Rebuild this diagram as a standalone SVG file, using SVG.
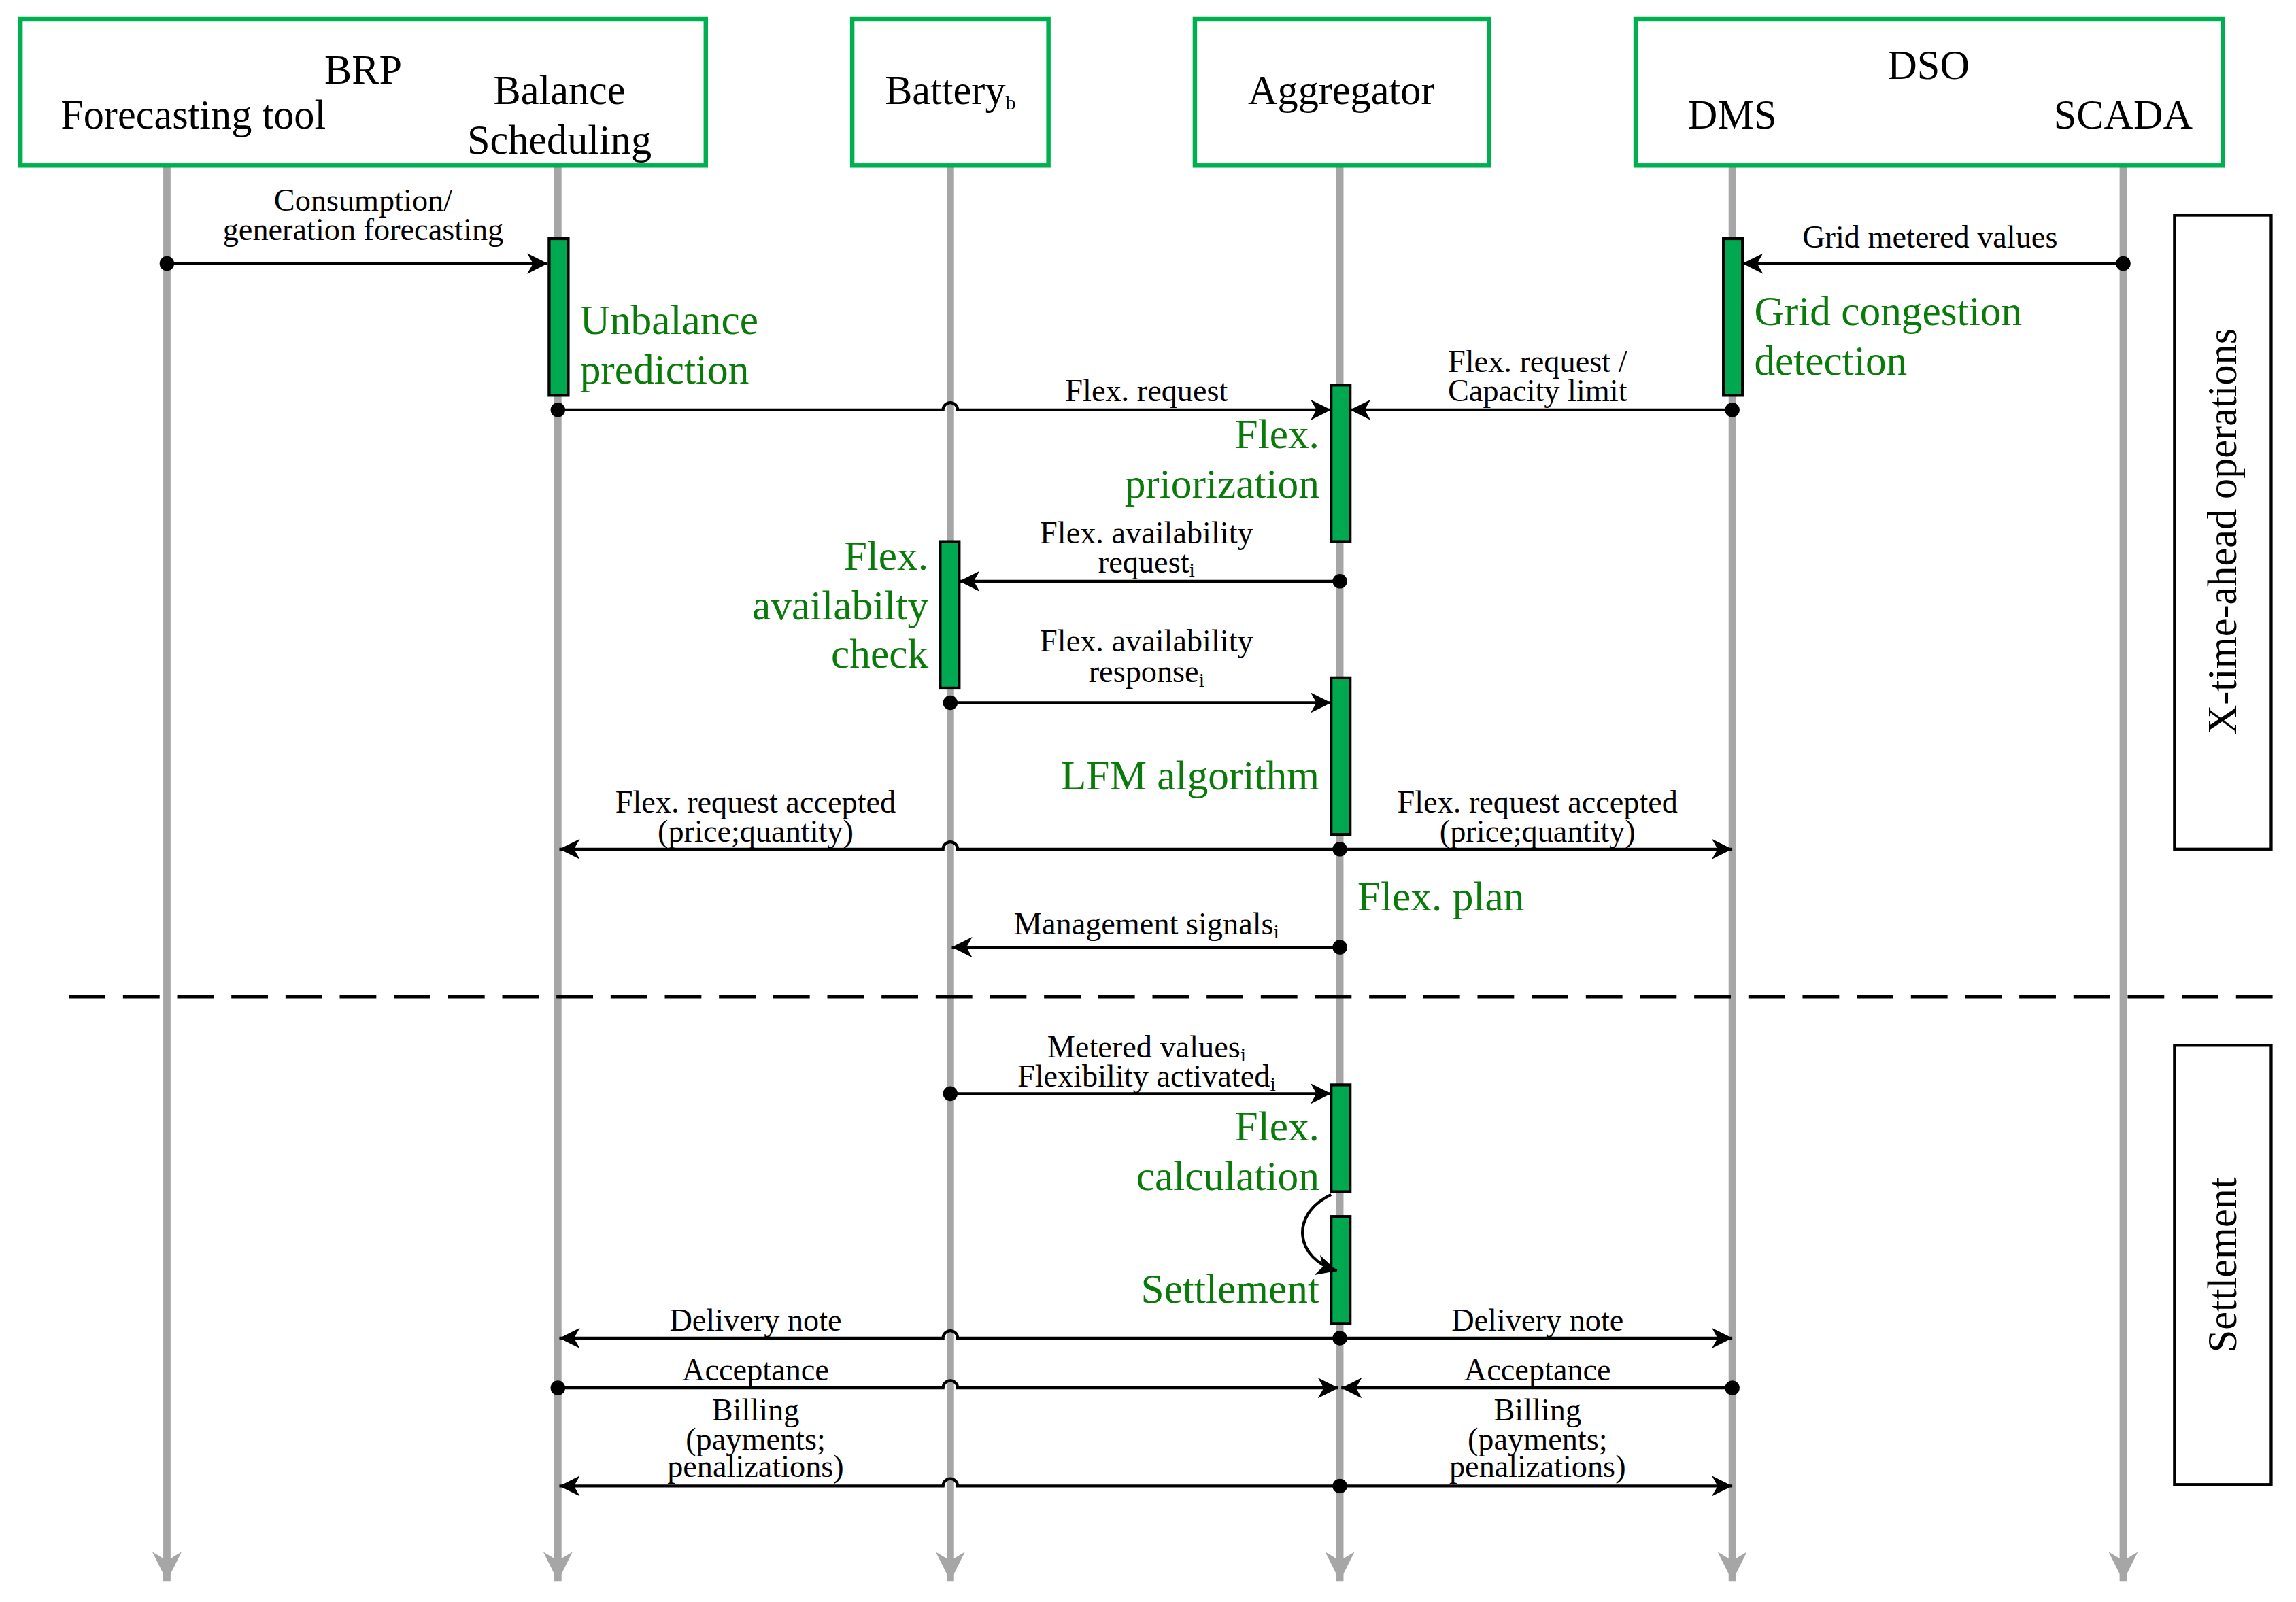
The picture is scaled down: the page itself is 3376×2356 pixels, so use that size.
<svg xmlns="http://www.w3.org/2000/svg" width="3376" height="2356" viewBox="0 0 3376 2356">
<style>
.box{fill:#fff;stroke:#00b050;stroke-width:3}
.life{stroke:#a6a6a6;stroke-width:5;fill:none}
.act{fill:#00a84f;stroke:#000;stroke-width:2}
.msg{stroke:#000;stroke-width:2;fill:none}
.h{font-family:"Liberation Serif",serif;font-size:28px;fill:#000}
.l{font-family:"Liberation Serif",serif;font-size:21.5px;fill:#000;text-anchor:middle}
.g{font-family:"Liberation Serif",serif;font-size:28.5px;fill:#0a7a0a}
.sub{font-size:14px}
.side{fill:#fff;stroke:#000;stroke-width:2}
</style>
<defs>
<marker id="ah" markerUnits="userSpaceOnUse" markerWidth="16" markerHeight="14" refX="14" refY="7" orient="auto"><path d="M0,0 L14,7 L0,14 L4,7 Z" fill="#000"/></marker>
<marker id="dot" markerUnits="userSpaceOnUse" markerWidth="12" markerHeight="12" refX="6" refY="6"><circle cx="6" cy="6" r="5" fill="#000"/></marker>
<marker id="gah" markerUnits="userSpaceOnUse" markerWidth="20" markerHeight="22" refX="10" refY="20" orient="0"><path d="M0,0 L10,20 L20,0 L10,6 Z" fill="#a6a6a6"/></marker>
</defs>
<rect width="3376" height="2356" fill="#fff"/>
<g transform="scale(2.1531)">
<g id="lifelines">
<path class="life" d="M114,113 V1080" marker-end="url(#gah)"/>
<path class="life" d="M381,113 V1080" marker-end="url(#gah)"/>
<path class="life" d="M649,113 V1080" marker-end="url(#gah)"/>
<path class="life" d="M915,113 V1080" marker-end="url(#gah)"/>
<path class="life" d="M1183,113 V1080" marker-end="url(#gah)"/>
<path class="life" d="M1450,113 V1080" marker-end="url(#gah)"/>
</g>
<g id="brp"><rect class="box" x="14" y="13" width="468" height="100"/>
<text class="h" x="248" y="57" text-anchor="middle">BRP</text>
<text class="h" x="132" y="88" text-anchor="middle">Forecasting tool</text>
<text class="h" x="382" y="71" text-anchor="middle">Balance</text>
<text class="h" x="382" y="105" text-anchor="middle">Scheduling</text></g>
<g id="battery"><rect class="box" x="582" y="13" width="134" height="100"/>
<text class="h" x="649" y="71" text-anchor="middle">Battery<tspan class="sub" dy="4">b</tspan></text></g>
<g id="aggregator"><rect class="box" x="816" y="13" width="201" height="100"/>
<text class="h" x="916" y="71" text-anchor="middle">Aggregator</text></g>
<g id="dso"><rect class="box" x="1117" y="13" width="401" height="100"/>
<text class="h" x="1317" y="54" text-anchor="middle">DSO</text>
<text class="h" x="1183" y="88" text-anchor="middle">DMS</text>
<text class="h" x="1450" y="88" text-anchor="middle">SCADA</text></g>
<g id="side-boxes">
<rect class="side" x="1485" y="147" width="66" height="433"/>
<text class="h" transform="translate(1527,363) rotate(-90)" text-anchor="middle">X-time-ahead operations</text>
<rect class="side" x="1485" y="714" width="66" height="300"/>
<text class="h" transform="translate(1527,864) rotate(-90)" text-anchor="middle">Settlement</text>
</g>
<g id="activations">
<rect class="act" x="375" y="163" width="13" height="107"/>
<rect class="act" x="1177" y="163" width="13" height="107"/>
<rect class="act" x="909" y="263" width="13" height="107"/>
<rect class="act" x="642" y="370" width="13" height="100"/>
<rect class="act" x="909" y="463" width="13" height="107"/>
<rect class="act" x="909" y="741" width="13" height="73"/>
<rect class="act" x="909" y="831" width="13" height="73"/>
</g>
<g id="green-labels">
<text class="g" x="396" y="228">Unbalance</text>
<text class="g" x="396" y="262">prediction</text>
<text class="g" x="1198" y="222">Grid congestion</text>
<text class="g" x="1198" y="256">detection</text>
<text class="g" x="901" y="306" text-anchor="end">Flex.</text>
<text class="g" x="901" y="340" text-anchor="end">priorization</text>
<text class="g" x="634" y="389" text-anchor="end">Flex.</text>
<text class="g" x="634" y="423" text-anchor="end">availabilty</text>
<text class="g" x="634" y="456" text-anchor="end">check</text>
<text class="g" x="901" y="539" text-anchor="end">LFM algorithm</text>
<text class="g" x="927" y="622">Flex. plan</text>
<text class="g" x="901" y="779" text-anchor="end">Flex.</text>
<text class="g" x="901" y="813" text-anchor="end">calculation</text>
<text class="g" x="901" y="890" text-anchor="end">Settlement</text>
</g>
<g id="connectors">
<path class="msg" d="M114,180 H374" marker-start="url(#dot)" marker-end="url(#ah)"/>
<path class="msg" d="M1450,180 H1190" marker-start="url(#dot)" marker-end="url(#ah)"/>
<path class="msg" d="M381,280 H644 a5,5 0 0 1 10,0 H909" marker-start="url(#dot)" marker-end="url(#ah)"/>
<path class="msg" d="M1183,280 H922" marker-start="url(#dot)" marker-end="url(#ah)"/>
<path class="msg" d="M915,397 H655" marker-start="url(#dot)" marker-end="url(#ah)"/>
<path class="msg" d="M649,480 H909" marker-start="url(#dot)" marker-end="url(#ah)"/>
<path class="msg" d="M915,580 H654 a5,5 0 0 0 -10,0 H382" marker-start="url(#dot)" marker-end="url(#ah)"/>
<path class="msg" d="M915,580 H1183" marker-end="url(#ah)"/>
<path class="msg" d="M915,647 H650" marker-start="url(#dot)" marker-end="url(#ah)"/>
<line x1="47" y1="681" x2="1553" y2="681" stroke="#000" stroke-width="2" stroke-dasharray="25,12"/>
<path class="msg" d="M649,747 H909" marker-start="url(#dot)" marker-end="url(#ah)"/>
<path class="msg" d="M909,816 C880,830 885,860 913,868" marker-end="url(#ah)"/>
<path class="msg" d="M915,914 H654 a5,5 0 0 0 -10,0 H382" marker-start="url(#dot)" marker-end="url(#ah)"/>
<path class="msg" d="M915,914 H1183" marker-end="url(#ah)"/>
<path class="msg" d="M381,948 H644 a5,5 0 0 1 10,0 H914" marker-start="url(#dot)" marker-end="url(#ah)"/>
<path class="msg" d="M1183,948 H916" marker-start="url(#dot)" marker-end="url(#ah)"/>
<path class="msg" d="M915,1015 H654 a5,5 0 0 0 -10,0 H382" marker-start="url(#dot)" marker-end="url(#ah)"/>
<path class="msg" d="M915,1015 H1183" marker-end="url(#ah)"/>
</g>
<g id="labels">
<text class="l" x="248" y="144">Consumption/</text>
<text class="l" x="248" y="164">generation forecasting</text>
<text class="l" x="1318" y="169">Grid metered values</text>
<text class="l" x="783" y="274">Flex. request</text>
<text class="l" x="1050" y="254">Flex. request /</text>
<text class="l" x="1050" y="274">Capacity limit</text>
<text class="l" x="783" y="371">Flex. availability</text>
<text class="l" x="783" y="391">request<tspan class="sub" dy="3">i</tspan></text>
<text class="l" x="783" y="445">Flex. availability</text>
<text class="l" x="783" y="466">response<tspan class="sub" dy="3">i</tspan></text>
<text class="l" x="516" y="555">Flex. request accepted</text>
<text class="l" x="516" y="575">(price;quantity)</text>
<text class="l" x="1050" y="555">Flex. request accepted</text>
<text class="l" x="1050" y="575">(price;quantity)</text>
<text class="l" x="783" y="638">Management signals<tspan class="sub" dy="3">i</tspan></text>
<text class="l" x="783" y="722">Metered values<tspan class="sub" dy="3">i</tspan></text>
<text class="l" x="783" y="742">Flexibility activated<tspan class="sub" dy="3">i</tspan></text>
<text class="l" x="516" y="909">Delivery note</text>
<text class="l" x="1050" y="909">Delivery note</text>
<text class="l" x="516" y="943">Acceptance</text>
<text class="l" x="1050" y="943">Acceptance</text>
<text class="l" x="516" y="970">Billing</text>
<text class="l" x="516" y="990">(payments;</text>
<text class="l" x="516" y="1009">penalizations)</text>
<text class="l" x="1050" y="970">Billing</text>
<text class="l" x="1050" y="990">(payments;</text>
<text class="l" x="1050" y="1009">penalizations)</text>
</g>
</g>
</svg>
